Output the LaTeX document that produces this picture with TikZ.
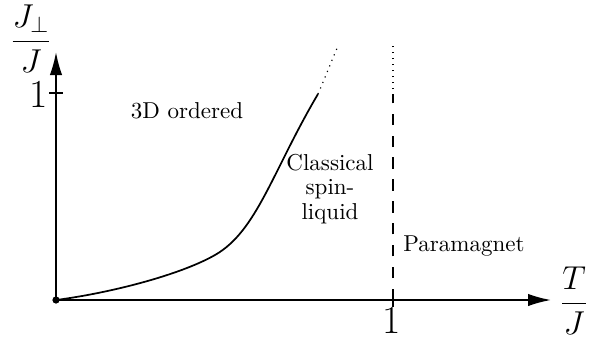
\documentclass[tikz,border=0pt]{standalone}
\usetikzlibrary{arrows.meta}
\begin{document}
\begin{tikzpicture}[x=0.4348pt,y=-0.4348pt,
  axis/.style={line width=0.75pt,-{Latex[length=10pt,width=5.4pt]}},
  tickline/.style={line width=0.6pt},
  curveline/.style={line width=0.75pt},
  dotline/.style={line width=0.5pt,dash pattern=on 0.5pt off 2.1pt},
  dashline/.style={line width=0.75pt,dash pattern=on 5pt off 4.5pt},
  lbl/.style={inner sep=0pt}]
\useasboundingbox (0,0) rectangle (589,339);
\coordinate (O) at (56,300);
\coordinate (Xend) at (551,300);
\coordinate (Yend) at (56,52);
\draw[axis] (O) -- (Xend);
\draw[axis] (O) -- (Yend);
\fill (O) circle (3.6);
% ticks
\coordinate (ty1) at (49,93);
\coordinate (ty2) at (63,93);
\coordinate (tx1) at (393,293);
\coordinate (tx2) at (393,307);
\draw[tickline] (ty1) -- (ty2);
\draw[tickline] (tx1) -- (tx2);
\node[lbl,font=\LARGE] (oney) at (39,94) {1};
\node[lbl,font=\LARGE] (onex) at (392,320) {1};
% axis labels
\node[lbl] (tj) at (574,301) {\Large$\displaystyle\frac{T}{J}$};
\node[lbl] (jj) at (31,39) {\Large$\displaystyle\frac{J_\perp}{J}$};
% phase boundary
\coordinate (c1) at (215,255);
\coordinate (c2) at (318,94);
\coordinate (c3) at (338,46);
\draw[curveline] (O) .. controls (110,293) and (180,275) .. (c1)
                     .. controls (257,231) and (272,172) .. (c2);
\draw[dotline] (c2) .. controls (325,78) and (331,62) .. (c3);
% vertical line at T/J = 1
\coordinate (v0) at (393,300);
\coordinate (v1) at (393,95);
\coordinate (v2) at (393,42);
\draw[dashline] (v0) -- (v1);
\draw[dotline] (v1) -- (v2);
% region labels
\node (ord) at (187,111) {3D ordered};
\node[align=center,inner sep=0pt,font=\linespread{0.9}\selectfont] (csl) at (330,189) {Classical\\spin-\\liquid};
\node (para) at (464,246) {Paramagnet};
\end{tikzpicture}
\end{document}
